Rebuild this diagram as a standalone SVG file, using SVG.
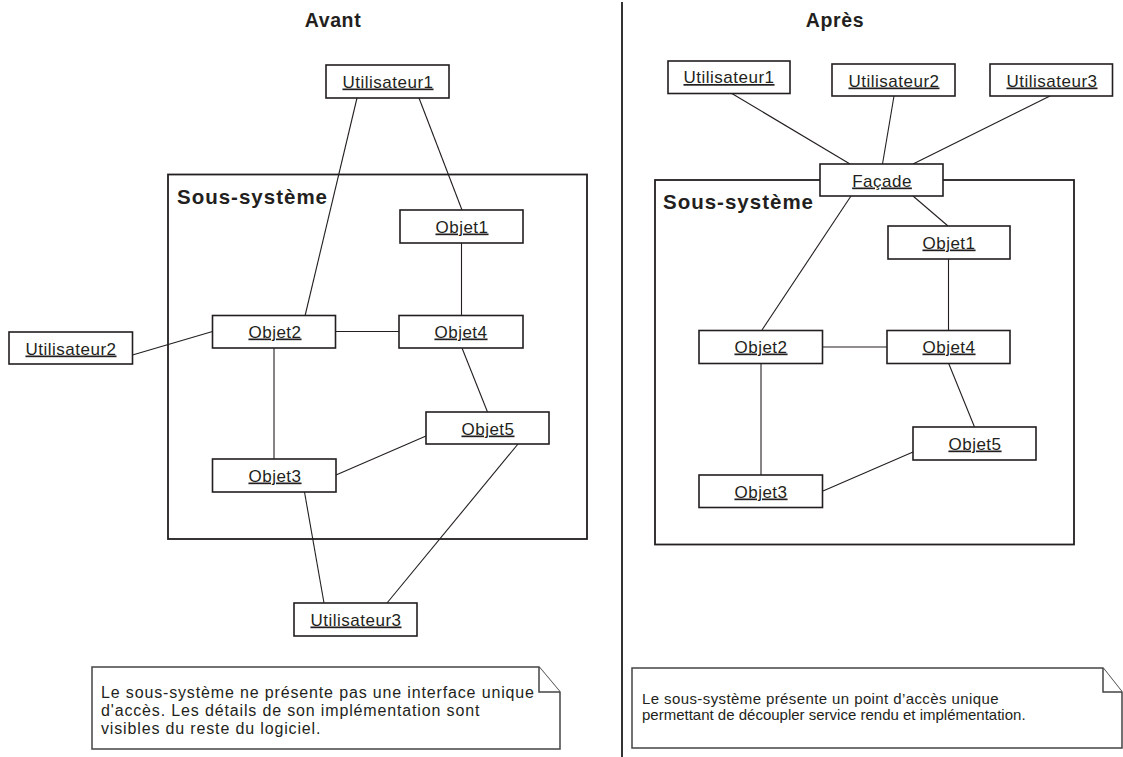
<svg xmlns="http://www.w3.org/2000/svg" width="1123" height="757" viewBox="0 0 1123 757">
<style>
.node rect{fill:#fff;stroke:#231f20;stroke-width:1.6}
.lbl{font-family:"Liberation Sans",Arial,sans-serif;font-size:17px;letter-spacing:0.5px;fill:#231f20;text-anchor:middle;text-decoration:underline}
.title{font-family:"Liberation Sans",Arial,sans-serif;font-size:19.5px;font-weight:bold;letter-spacing:0.6px;fill:#231f20;text-anchor:middle}
.sys{font-family:"Liberation Sans",Arial,sans-serif;font-size:20.5px;font-weight:bold;letter-spacing:1px;fill:#231f20}
.frame{fill:none;stroke:#231f20;stroke-width:1.8}
.conn line{stroke:#231f20;stroke-width:1.1}
.note path{fill:#fff;stroke:#444;stroke-width:1.5;stroke-linejoin:miter}
.ntxt{font-family:"Liberation Sans",Arial,sans-serif;font-size:15px;fill:#231f20}
.ntxtL{font-family:"Liberation Sans",Arial,sans-serif;font-size:16px;letter-spacing:0.85px;fill:#231f20}
</style>
<rect width="1123" height="757" fill="#fff"/>
<line x1="622" y1="2" x2="622" y2="757" stroke="#333" stroke-width="2"/>
<text class="title" x="333" y="27">Avant</text>
<text class="title" x="835" y="27">Après</text>

<g id="frame-left">
<rect class="frame" x="168" y="174.5" width="419" height="364.5"/>
<text class="sys" x="177" y="204">Sous-système</text>
</g>
<g id="frame-right">
<rect class="frame" x="655" y="180" width="419" height="364.5"/>
<text class="sys" x="663" y="209">Sous-système</text>
</g>

<g id="connectors" class="conn">
<line x1="357" y1="98" x2="305" y2="316"/>
<line x1="419" y1="98" x2="462" y2="210"/>
<line x1="461.5" y1="243" x2="461.5" y2="315"/>
<line x1="132.5" y1="355" x2="212.5" y2="331.5"/>
<line x1="336" y1="331.5" x2="399" y2="331.5"/>
<line x1="274" y1="348" x2="274" y2="459"/>
<line x1="462" y1="348" x2="487.5" y2="412"/>
<line x1="336" y1="475" x2="426" y2="436"/>
<line x1="304.5" y1="492" x2="324" y2="603"/>
<line x1="518" y1="444" x2="387" y2="603"/>

<line x1="731" y1="93" x2="850" y2="164"/>
<line x1="894" y1="96" x2="882.5" y2="164"/>
<line x1="1050" y1="96" x2="913" y2="164"/>
<line x1="851" y1="196" x2="762" y2="330"/>
<line x1="913" y1="196" x2="948" y2="226"/>
<line x1="948.5" y1="259" x2="948.5" y2="330"/>
<line x1="823" y1="347" x2="887" y2="347"/>
<line x1="761" y1="363" x2="761" y2="475"/>
<line x1="948.5" y1="363" x2="974.5" y2="427"/>
<line x1="823" y1="491" x2="913" y2="452"/>
</g>

<g id="L-utilisateur1" class="node"><rect x="326" y="65" width="123" height="33"/><text class="lbl" x="388" y="87.5">Utilisateur1</text></g>
<g id="L-utilisateur2" class="node"><rect x="9" y="332" width="123.5" height="32"/><text class="lbl" x="71" y="354.5">Utilisateur2</text></g>
<g id="L-utilisateur3" class="node"><rect x="294" y="603" width="123" height="33"/><text class="lbl" x="356" y="625.5">Utilisateur3</text></g>
<g id="L-objet1" class="node"><rect x="400" y="210" width="123" height="33"/><text class="lbl" x="462" y="232.5">Objet1</text></g>
<g id="L-objet2" class="node"><rect x="212.5" y="315.5" width="123" height="32.5"/><text class="lbl" x="275" y="337.5">Objet2</text></g>
<g id="L-objet3" class="node"><rect x="212.5" y="459" width="123.5" height="33"/><text class="lbl" x="275" y="481.5">Objet3</text></g>
<g id="L-objet4" class="node"><rect x="399" y="315.5" width="124" height="32.5"/><text class="lbl" x="461" y="337.5">Objet4</text></g>
<g id="L-objet5" class="node"><rect x="426" y="412" width="123" height="32"/><text class="lbl" x="488" y="434.5">Objet5</text></g>

<g id="R-utilisateur1" class="node"><rect x="668" y="61" width="122" height="32.5"/><text class="lbl" x="729" y="83">Utilisateur1</text></g>
<g id="R-utilisateur2" class="node"><rect x="832" y="64" width="123" height="32"/><text class="lbl" x="894" y="86.5">Utilisateur2</text></g>
<g id="R-utilisateur3" class="node"><rect x="990" y="64" width="122.5" height="32"/><text class="lbl" x="1052" y="86.5">Utilisateur3</text></g>
<g id="R-facade" class="node"><rect x="820" y="164" width="123" height="32"/><text class="lbl" x="882" y="186.5">Façade</text></g>
<g id="R-objet1" class="node"><rect x="888" y="226" width="122" height="33"/><text class="lbl" x="949" y="248.5">Objet1</text></g>
<g id="R-objet2" class="node"><rect x="699" y="330.5" width="123.5" height="33"/><text class="lbl" x="761" y="352.5">Objet2</text></g>
<g id="R-objet3" class="node"><rect x="699" y="475" width="123.5" height="32.5"/><text class="lbl" x="761" y="497.5">Objet3</text></g>
<g id="R-objet4" class="node"><rect x="887" y="330.5" width="123" height="33"/><text class="lbl" x="949" y="352.5">Objet4</text></g>
<g id="R-objet5" class="node"><rect x="913" y="427" width="123" height="33"/><text class="lbl" x="975" y="449.5">Objet5</text></g>

<g id="note-left" class="note">
<path d="M92,667 H539 L560,692 V749 H92 Z"/>
<path d="M539,667 V692 H560" fill="none"/>
<text class="ntxtL" x="101" y="698">Le sous-système ne présente pas une interface unique</text>
<text class="ntxtL" x="101" y="716">d'accès. Les détails de son implémentation sont</text>
<text class="ntxtL" x="101" y="733.5">visibles du reste du logiciel.</text>
</g>
<g id="note-right" class="note">
<path d="M632,668 H1103 L1122,692 V748 H632 Z"/>
<path d="M1103,668 V692 H1122" fill="none"/>
<text class="ntxt" letter-spacing="0.4" x="642" y="704">Le sous-système présente un point d’accès unique</text>
<text class="ntxt" x="642" y="720">permettant de découpler service rendu et implémentation.</text>
</g>
</svg>
